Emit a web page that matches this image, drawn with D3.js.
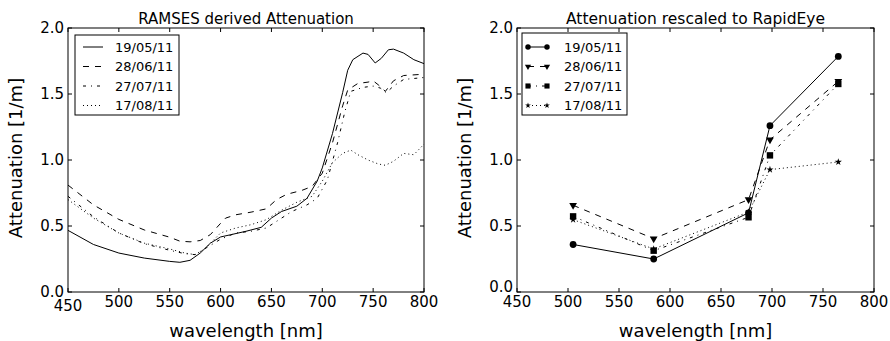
<!DOCTYPE html>
<html>
<head>
<meta charset="utf-8">
<script src="https://cdn.jsdelivr.net/npm/d3@7"></script>
<style>
  body { margin: 0; background: #fff; }
  svg { font-family: "DejaVu Sans", sans-serif; }
  .tick-label { font-size: 15px; fill: #000; }
</style>
</head>
<body>
<svg id="chart" width="890" height="341"></svg>
<script>
// ---- data ----
let dates = ["19/05/11", "28/06/11", "27/07/11", "17/08/11"]
let dashes = ["none", "6,6", "3,5,1,5", "1,3"]
let markers = ["circle", "triangleDown", "square", "star"]

// left panel: RAMSES spectra (wavelength, attenuation)
let ramsesWl1 = [450,475,500,525,550,560,570,580,590,600,610,625,640,650,660,675,685,695,700,710,720,725,730,740,745,752,758,765,770,780,790,800]
let ramses1   = [0.467,0.36,0.295,0.257,0.232,0.225,0.24,0.295,0.37,0.417,0.434,0.46,0.49,0.56,0.61,0.65,0.71,0.84,0.94,1.2,1.51,1.68,1.76,1.81,1.80,1.735,1.77,1.835,1.84,1.81,1.76,1.73]
let ramsesWl2 = [450,475,500,525,550,560,570,580,590,600,605,615,630,645,655,665,680,690,700,710,720,725,735,745,750,755,762,770,780,800]
let ramses2   = [0.81,0.66,0.55,0.47,0.415,0.385,0.38,0.39,0.435,0.52,0.56,0.585,0.605,0.63,0.70,0.74,0.77,0.80,0.9,1.13,1.41,1.53,1.58,1.59,1.60,1.57,1.52,1.60,1.64,1.65]
let ramsesWl3 = [450,475,500,525,550,565,575,585,600,615,630,645,655,670,685,695,705,715,722,728,740,750,757,763,770,780,800]
let ramses3   = [0.725,0.57,0.447,0.366,0.316,0.29,0.283,0.33,0.40,0.447,0.46,0.485,0.535,0.61,0.66,0.71,0.85,1.13,1.36,1.52,1.55,1.56,1.545,1.51,1.56,1.61,1.625]
let ramsesWl4 = [450,475,500,525,550,565,575,585,600,615,630,645,660,675,690,700,710,720,728,735,745,755,762,770,780,790,800]
let ramses4   = [0.70,0.56,0.447,0.37,0.326,0.295,0.283,0.33,0.447,0.485,0.51,0.548,0.62,0.68,0.725,0.84,0.98,1.05,1.075,1.04,1.0,0.97,0.96,0.99,1.05,1.04,1.12]

// right panel: rescaled to RapidEye bands
let bandWl = [505, 584, 677, 698, 765]
let rapid1 = [0.36, 0.25, 0.60, 1.26, 1.785]
let rapid2 = [0.657, 0.404, 0.70, 1.154, 1.596]
let rapid3 = [0.573, 0.313, 0.566, 1.035, 1.576]
let rapid4 = [0.548, 0.326, 0.606, 0.927, 0.985]

let xTicks = [450, 500, 550, 600, 650, 700, 750, 800]
let yTicks = [0.0, 0.5, 1.0, 1.5, 2.0]

let svg = d3.select("#chart")

function drawPanel(opts) {
  let x = d3.scaleLinear().domain([450, 800]).range([opts.left, opts.right])
  let y = d3.scaleLinear().domain([0, 2]).range([292, 28])
  let g = svg.append("g")

  // inward ticks on all sides
  let tl = 4
  xTicks.forEach(t => {
    g.append("line").attr("x1", x(t)).attr("x2", x(t)).attr("y1", 292).attr("y2", 292 - tl).attr("stroke", "#000")
    g.append("line").attr("x1", x(t)).attr("x2", x(t)).attr("y1", 28).attr("y2", 28 + tl).attr("stroke", "#000")
    g.append("text").attr("class", "tick-label")
      .attr("x", x(t)).attr("y", (t == 450 && opts.lowFirst) ? 311 : 307)
      .attr("text-anchor", "middle").text(t)
  })
  yTicks.forEach(t => {
    g.append("line").attr("x1", opts.left).attr("x2", opts.left + tl).attr("y1", y(t)).attr("y2", y(t)).attr("stroke", "#000")
    g.append("line").attr("x1", opts.right).attr("x2", opts.right - tl).attr("y1", y(t)).attr("y2", y(t)).attr("stroke", "#000")
    let dy = (t == 0 && !opts.lowFirst) ? 0 : 5
    g.append("text").attr("class", "tick-label")
      .attr("x", opts.left - 4).attr("y", y(t) + dy)
      .attr("text-anchor", "end").text(t.toFixed(1))
  })

  g.append("text").attr("x", (opts.left + opts.right) / 2).attr("y", 24)
    .attr("text-anchor", "middle").style("font-size", opts.titleSize).text(opts.title)
  g.append("text").attr("x", (opts.left + opts.right) / 2).attr("y", 337)
    .attr("text-anchor", "middle").style("font-size", "18px").text("wavelength [nm]")
  g.append("text").attr("transform", `translate(${opts.left - 46},158) rotate(-90)`)
    .attr("text-anchor", "middle").style("font-size", "18px").text("Attenuation [1/m]")

  let line = d3.line().x(d => x(d[0])).y(d => y(d[1]))
  let plot = g.append("g")
  opts.series.forEach((s, i) => {
    let pts = s.wl.map((w, j) => [w, s.vals[j]])
    plot.append("path").datum(pts).attr("d", line)
      .attr("fill", "none").attr("stroke", "#000").attr("stroke-width", 1)
      .attr("stroke-dasharray", dashes[i])
    if (opts.withMarkers) {
      pts.forEach(p => drawMarker(plot, markers[i], x(p[0]), y(p[1]), 1))
    }
  })

  g.append("rect").attr("x", opts.left).attr("y", 28)
    .attr("width", opts.right - opts.left).attr("height", 264)
    .attr("fill", "none").attr("stroke", "#000").attr("stroke-width", 1)

  // legend
  let lg = g.append("g")
  lg.append("rect").attr("x", opts.legX).attr("y", opts.legY).attr("width", opts.legW).attr("height", 115 - opts.legY)
    .attr("fill", "#fff").attr("stroke", "#000").attr("stroke-width", 1)
  dates.forEach((d, i) => {
    let ly = 47 + i * 19.5
    let x0 = opts.legX + opts.samplePad, x1 = x0 + opts.sampleW
    lg.append("line").attr("x1", x0).attr("x2", x1).attr("y1", ly).attr("y2", ly)
      .attr("stroke", "#000").attr("stroke-dasharray", dashes[i])
    if (opts.withMarkers) {
      drawMarker(lg, markers[i], x0, ly, 0.8)
      drawMarker(lg, markers[i], x1, ly, 0.8)
    }
    lg.append("text").attr("x", x1 + opts.textGap).attr("y", ly + 4.5)
      .style("font-size", "13px").text(d)
  })
}

function drawMarker(g, type, cx, cy, k) {
  if (type == "circle") {
    g.append("circle").attr("cx", cx).attr("cy", cy).attr("r", 3.4 * k).attr("fill", "#000")
  } else if (type == "square") {
    let h = 3.2 * k
    g.append("rect").attr("x", cx - h).attr("y", cy - h).attr("width", 2 * h).attr("height", 2 * h).attr("fill", "#000")
  } else if (type == "triangleDown") {
    g.append("path").attr("d", d3.symbol(d3.symbolTriangle, 26 * k * k)())
      .attr("transform", `translate(${cx},${cy}) rotate(180)`).attr("fill", "#000")
  } else {
    g.append("path").attr("d", d3.symbol(d3.symbolStar, 16 * k * k)())
      .attr("transform", `translate(${cx},${cy})`).attr("fill", "#000")
  }
}

drawPanel({
  left: 68, right: 424, title: "RAMSES derived Attenuation", titleSize: "15px", lowFirst: true,
  legX: 75, legY: 35, legW: 104, samplePad: 8, sampleW: 20, textGap: 12, withMarkers: false,
  series: [
    {wl: ramsesWl1, vals: ramses1}, {wl: ramsesWl2, vals: ramses2},
    {wl: ramsesWl3, vals: ramses3}, {wl: ramsesWl4, vals: ramses4}
  ]
})
drawPanel({
  left: 517, right: 874, title: "Attenuation rescaled to RapidEye", titleSize: "15.5px", lowFirst: false,
  legX: 522, legY: 33, legW: 105, samplePad: 6, sampleW: 19, textGap: 17, withMarkers: true,
  series: [
    {wl: bandWl, vals: rapid1}, {wl: bandWl, vals: rapid2},
    {wl: bandWl, vals: rapid3}, {wl: bandWl, vals: rapid4}
  ]
})
</script>
</body>
</html>
